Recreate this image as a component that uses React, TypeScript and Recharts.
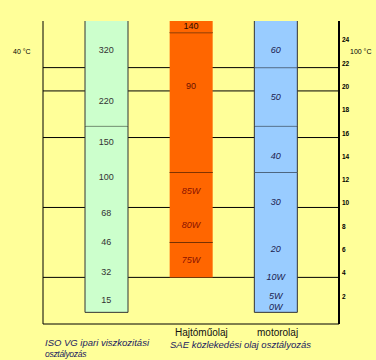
import React from "react";
import {
  ComposedChart,
  Bar,
  XAxis,
  YAxis,
  CartesianGrid,
  ReferenceDot,
} from "recharts";

// columns of the chart
const columns = ["iso", "gear", "motor"];

// segment boundaries, in mm²/s at 100 °C (right axis units)
const isoBounds = [1, 17, 26];
const gearBounds = [4, 7, 13, 25, 26];
const motorBounds = [1, 13, 17, 22, 26];

// class names written inside the columns and where they sit
const isoLabels = ["320", "220", "150", "100", "68", "46", "32", "15"];
const isoLabelAt = [23.5, 19.1, 15.6, 12.6, 9.5, 7.0, 4.5, 2.1];
const gearLabels = ["140", "90", "85W", "80W", "75W"];
const gearLabelAt = [25.6, 20.4, 11.4, 8.5, 5.5];
const motorLabels = ["60", "50", "40", "30", "20", "10W", "5W", "0W"];
const motorLabelAt = [23.5, 19.5, 14.4, 10.5, 6.4, 4.0, 2.4, 1.5];

// axis ticks: 100 °C (right) and the matching 40 °C labels (left)
const ticks100 = [2, 4, 6, 8, 10, 12, 14, 16, 18, 20, 22, 24];
const ticks40 = ["10", "20", "40", "60", "86", "116", "140", "176", "206", "240", "280", "316"];

// horizontal guide lines
const guideLines = [4, 10, 16, 20, 22];

const boundsByCol: Record<string, number[]> = {
  iso: isoBounds,
  gear: gearBounds,
  motor: motorBounds,
};

const labelsByCol: Record<string, [string[], number[]]> = {
  iso: [isoLabels, isoLabelAt],
  gear: [gearLabels, gearLabelAt],
  motor: [motorLabels, motorLabelAt],
};

const data = columns.map((name) => {
  const b = boundsByCol[name];
  const row: any = { name, base: b[0] };
  for (let i = 1; i < b.length; i++) row["s" + (i - 1)] = b[i] - b[i - 1];
  return row;
});

const FONT = "'Liberation Sans', Arial, sans-serif";

const fills: Record<string, string> = {
  iso: "#CCFFCC",
  gear: "#FF6600",
  motor: "#99CCFF",
};

function segShape(seg: number) {
  return (p: any) => {
    const { x, y, width, height, payload } = p;
    if (!height || height <= 0) return <g />;
    const name = payload.name;
    const nSeg = boundsByCol[name].length - 1;
    const framed = name !== "gear";
    return (
      <g>
        <rect x={x} y={y} width={width} height={height} fill={fills[name]} />
        {seg < nSeg - 1 && (
          <line x1={x} x2={x + width} y1={y} y2={y} stroke="#000" />
        )}
        {framed && (
          <path
            d={`M${x},${y}V${y + height}M${x + width},${y}V${y + height}`}
            stroke="#333"
            fill="none"
          />
        )}
        {framed && seg === 0 && (
          <line
            x1={x}
            x2={x + width}
            y1={y + height}
            y2={y + height}
            stroke="#333"
          />
        )}
      </g>
    );
  };
}

function labelStyle(col: string, text: string) {
  if (col === "motor") return { fill: "#1c1c50", fontStyle: "italic" };
  if (col === "gear") {
    if (text.endsWith("W")) return { fill: "#8a1200", fontStyle: "italic" };
    if (text === "140") return { fill: "#2a0a00", fontStyle: "normal" };
    return { fill: "#6a1000", fontStyle: "normal" };
  }
  return { fill: "#333", fontStyle: "normal" };
}

// guide lines go in the grid so that the columns cover them
const guideCoords = ({ yAxis }: any) => {
  const sc = yAxis && yAxis.scale;
  return guideLines.map((v) =>
    typeof sc === "function" ? sc(v) : sc && sc.map ? sc.map(v) : 0
  );
};

export default function App() {
  return (
    <div
      style={{
        position: "absolute",
        left: 0,
        top: 0,
        width: 376,
        height: 360,
        background: "#FFFF99",
        fontFamily: FONT,
      }}
    >
      <ComposedChart
        width={376}
        height={360}
        data={data}
        margin={{ top: 21, right: 0, bottom: 0, left: 0 }}
        barSize={43}
      >
        <CartesianGrid
          yAxisId="r"
          vertical={false}
          stroke="#000"
          horizontalCoordinatesGenerator={guideCoords}
        />
        <XAxis
          dataKey="name"
          type="category"
          padding={{ left: 21, right: 21 }}
          tick={false}
          tickLine={false}
          axisLine={{ stroke: "#000" }}
          height={36}
        />
        <YAxis
          yAxisId="l"
          orientation="left"
          width={43}
          domain={[0, 26]}
          ticks={ticks100}
          tickLine={false}
          tickSize={4}
          tickMargin={0}
          axisLine={{ stroke: "#000" }}
          tick={(p: any) => (
            <text
              x={p.x}
              y={p.y - 2}
              textAnchor="end"
              fontSize={6.5}
              fontWeight="bold"
              fontFamily={FONT}
              fill="#000"
            >
              {ticks40[ticks100.indexOf(p.payload.value)]}
            </text>
          )}
        />
        <YAxis
          yAxisId="r"
          orientation="right"
          width={37}
          domain={[0, 26]}
          ticks={ticks100}
          tickLine={false}
          tickSize={3}
          tickMargin={0}
          axisLine={{ stroke: "#000", strokeWidth: 2 }}
          tick={(p: any) => (
            <text
              x={p.x}
              y={p.y - 2}
              textAnchor="start"
              fontSize={6.5}
              fontWeight="bold"
              fontFamily={FONT}
              fill="#000"
            >
              {p.payload.value}
            </text>
          )}
        />

        <Bar
          yAxisId="r"
          dataKey="base"
          stackId="c"
          fill="none"
          isAnimationActive={false}
        />
        {[0, 1, 2, 3].map((i) => (
          <Bar
            key={"s" + i}
            yAxisId="r"
            dataKey={"s" + i}
            stackId="c"
            shape={segShape(i)}
            isAnimationActive={false}
          />
        ))}

        {columns.map((col) =>
          labelsByCol[col][0].map((t, i) => {
            const st = labelStyle(col, t);
            return (
              <ReferenceDot
                key={col + i}
                yAxisId="r"
                x={col}
                y={labelsByCol[col][1][i]}
                r={0}
                shape={(p: any) => (
                  <text
                    x={p.cx}
                    y={p.cy}
                    textAnchor="middle"
                    dominantBaseline="central"
                    fontSize={9}
                    fontFamily={FONT}
                    fill={st.fill}
                    fontStyle={st.fontStyle}
                  >
                    {t}
                  </text>
                )}
              />
            );
          })
        )}
      </ComposedChart>

      <svg
        width={376}
        height={360}
        style={{ position: "absolute", left: 0, top: 0, pointerEvents: "none" }}
        fontFamily={FONT}
      >
        <text x={13} y={54} fontSize={7} fill="#000">
          40 °C
        </text>
        <text x={350} y={54} fontSize={7} fill="#000">
          100 °C
        </text>
        <text x={45} y={346} fontSize={9.5} fontStyle="italic" fill="#1a1a60">
          ISO VG  ipari viszkozitási
        </text>
        <text
          x={45}
          y={356.5}
          fontSize={8.5}
          fontStyle="italic"
          fill="#1a1a60"
          letterSpacing={-0.3}
        >
          osztályozás
        </text>
        <text x={175} y={335.5} fontSize={10} fill="#111">
          Hajtóműolaj
        </text>
        <text x={257} y={335.5} fontSize={10} fill="#111">
          motorolaj
        </text>
        <text x={170} y={348} fontSize={9.5} fontStyle="italic" fill="#1a1a60">
          SAE közlekedési olaj osztályozás
        </text>
      </svg>
    </div>
  );
}
